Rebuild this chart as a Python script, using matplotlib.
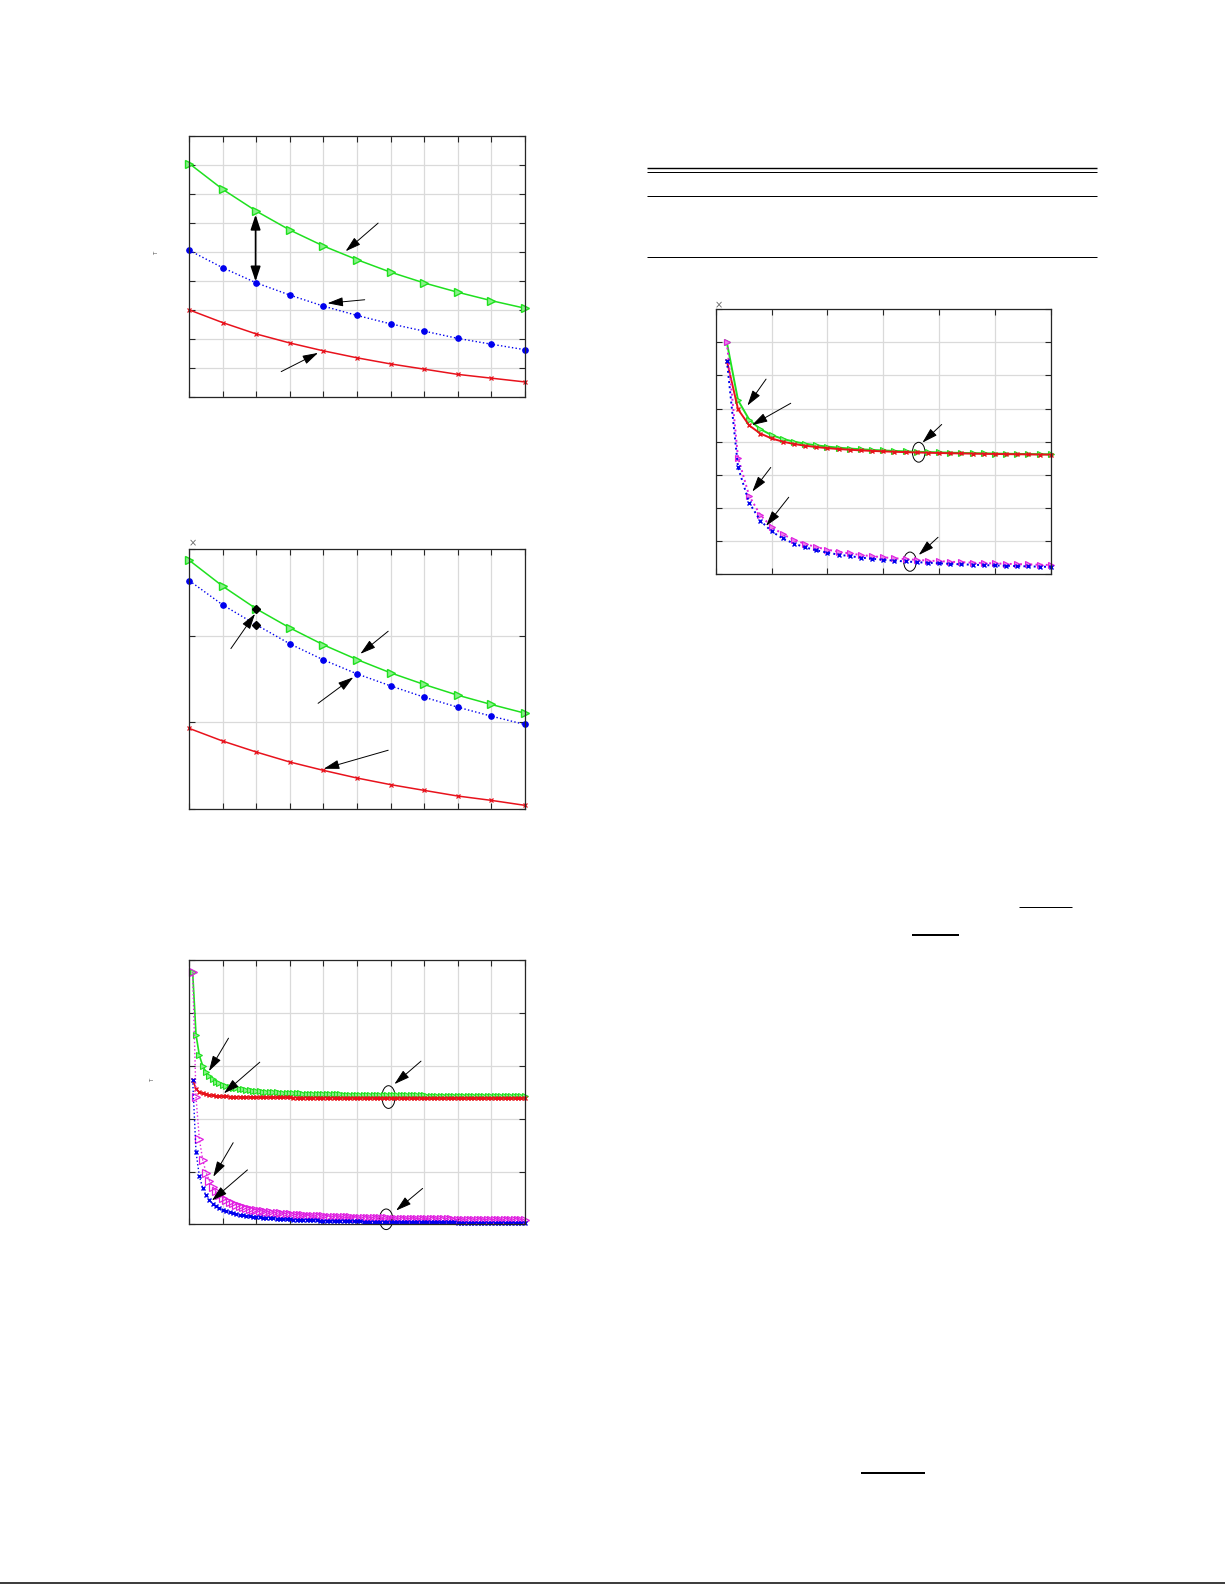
import matplotlib
matplotlib.use("Agg")
import matplotlib.pyplot as plt
from matplotlib.lines import Line2D
from matplotlib.patches import Ellipse

# ---------------- data ----------------
# Panel 1 (top-left)
p1_x = [0, 1, 2, 3, 4, 5, 6, 7, 8, 9, 10]
p1_green = [8.05, 7.16, 6.41, 5.76, 5.21, 4.74, 4.31, 3.94, 3.62, 3.33, 3.07]
p1_blue = [5.06, 4.46, 3.94, 3.52, 3.14, 2.82, 2.53, 2.28, 2.03, 1.83, 1.64]
p1_red = [3.01, 2.57, 2.18, 1.87, 1.60, 1.36, 1.15, 0.97, 0.79, 0.66, 0.53]

# Panel 2 (middle-left)
p2_x = [0, 1, 2, 3, 4, 5, 6, 7, 8, 9, 10]
p2_green = [2.866, 2.567, 2.307, 2.088, 1.893, 1.724, 1.571, 1.437, 1.314, 1.207, 1.107]
p2_blue = [2.632, 2.352, 2.123, 1.904, 1.720, 1.559, 1.421, 1.291, 1.176, 1.073, 0.977]
p2_red = [0.931, 0.785, 0.659, 0.544, 0.448, 0.360, 0.284, 0.218, 0.153, 0.103, 0.046]
p2_mark_x = [2, 2]
p2_mark_y = [2.31, 2.126]

# Panel 3 (bottom-left), 100 iterations
p3_x = list(range(1, 101))
p3_green = [4.780, 3.593, 3.197, 2.999, 2.881, 2.802, 2.745, 2.703, 2.670, 2.643,
            2.622, 2.604, 2.589, 2.576, 2.564, 2.554, 2.546, 2.538, 2.531, 2.525,
            2.519, 2.514, 2.509, 2.505, 2.501, 2.497, 2.494, 2.491, 2.488, 2.485,
            2.483, 2.480, 2.478, 2.476, 2.474, 2.472, 2.470, 2.469, 2.467, 2.465,
            2.464, 2.463, 2.461, 2.460, 2.459, 2.458, 2.457, 2.455, 2.454, 2.453,
            2.453, 2.452, 2.451, 2.450, 2.449, 2.448, 2.448, 2.447, 2.446, 2.446,
            2.445, 2.444, 2.444, 2.443, 2.443, 2.442, 2.441, 2.441, 2.440, 2.440,
            2.439, 2.439, 2.439, 2.438, 2.438, 2.437, 2.437, 2.436, 2.436, 2.436,
            2.435, 2.435, 2.435, 2.434, 2.434, 2.434, 2.433, 2.433, 2.433, 2.432,
            2.432, 2.432, 2.432, 2.431, 2.431, 2.431, 2.430, 2.430, 2.430, 2.430]
p3_red = [2.740, 2.565, 2.507, 2.478, 2.460, 2.448, 2.440, 2.434, 2.429, 2.425,
          2.422, 2.419, 2.417, 2.415, 2.413, 2.412, 2.411, 2.409, 2.408, 2.407,
          2.407, 2.406, 2.405, 2.405, 2.404, 2.403, 2.403, 2.402, 2.402, 2.402,
          2.401, 2.401, 2.401, 2.400, 2.400, 2.400, 2.399, 2.399, 2.399, 2.399,
          2.398, 2.398, 2.398, 2.398, 2.398, 2.398, 2.397, 2.397, 2.397, 2.397,
          2.397, 2.397, 2.397, 2.397, 2.396, 2.396, 2.396, 2.396, 2.396, 2.396,
          2.396, 2.396, 2.396, 2.396, 2.396, 2.396, 2.396, 2.396, 2.396, 2.396,
          2.395, 2.395, 2.395, 2.395, 2.395, 2.395, 2.395, 2.395, 2.395, 2.395,
          2.395, 2.395, 2.395, 2.395, 2.395, 2.394, 2.394, 2.394, 2.394, 2.394,
          2.394, 2.394, 2.394, 2.394, 2.394, 2.394, 2.394, 2.394, 2.394, 2.394]
p3_magenta = [4.780, 2.405, 1.613, 1.218, 0.980, 0.822, 0.709, 0.624, 0.558, 0.505,
              0.462, 0.426, 0.395, 0.369, 0.347, 0.327, 0.309, 0.294, 0.280, 0.268,
              0.256, 0.246, 0.237, 0.228, 0.220, 0.213, 0.206, 0.200, 0.194, 0.188,
              0.183, 0.178, 0.174, 0.170, 0.166, 0.162, 0.158, 0.155, 0.152, 0.149,
              0.146, 0.143, 0.140, 0.138, 0.136, 0.133, 0.131, 0.129, 0.127, 0.125,
              0.123, 0.121, 0.120, 0.118, 0.116, 0.115, 0.113, 0.112, 0.111, 0.109,
              0.108, 0.107, 0.105, 0.104, 0.103, 0.102, 0.101, 0.100, 0.099, 0.098,
              0.097, 0.096, 0.095, 0.094, 0.093, 0.093, 0.092, 0.091, 0.090, 0.089,
              0.089, 0.088, 0.087, 0.087, 0.086, 0.085, 0.085, 0.084, 0.083, 0.083,
              0.082, 0.082, 0.081, 0.081, 0.080, 0.079, 0.079, 0.078, 0.078, 0.077]
p3_blue = [2.740, 1.370, 0.913, 0.685, 0.548, 0.457, 0.391, 0.343, 0.304, 0.274,
           0.249, 0.228, 0.211, 0.196, 0.183, 0.171, 0.161, 0.152, 0.144, 0.137,
           0.130, 0.125, 0.119, 0.114, 0.110, 0.105, 0.101, 0.098, 0.094, 0.091,
           0.088, 0.086, 0.083, 0.081, 0.078, 0.076, 0.074, 0.072, 0.070, 0.069,
           0.067, 0.065, 0.064, 0.062, 0.061, 0.060, 0.058, 0.057, 0.056, 0.055,
           0.054, 0.053, 0.052, 0.051, 0.050, 0.049, 0.048, 0.047, 0.046, 0.046,
           0.045, 0.044, 0.043, 0.043, 0.042, 0.042, 0.041, 0.040, 0.040, 0.039,
           0.039, 0.038, 0.038, 0.037, 0.037, 0.036, 0.036, 0.035, 0.035, 0.034,
           0.034, 0.033, 0.033, 0.033, 0.032, 0.032, 0.031, 0.031, 0.031, 0.030,
           0.030, 0.030, 0.029, 0.029, 0.029, 0.029, 0.028, 0.028, 0.028, 0.027]

# Panel 4 (right), 30 iterations
p4_x = list(range(1, 31))
p4_green = [7.000, 5.250, 4.667, 4.375, 4.200, 4.083, 4.000, 3.938, 3.889, 3.850,
            3.818, 3.792, 3.769, 3.750, 3.733, 3.719, 3.706, 3.694, 3.684, 3.675,
            3.667, 3.659, 3.652, 3.646, 3.640, 3.635, 3.630, 3.625, 3.621, 3.617]
p4_red = [6.450, 4.980, 4.490, 4.245, 4.098, 4.000, 3.930, 3.878, 3.837, 3.804,
          3.777, 3.755, 3.736, 3.720, 3.706, 3.694, 3.683, 3.673, 3.665, 3.657,
          3.650, 3.644, 3.638, 3.633, 3.628, 3.623, 3.619, 3.615, 3.611, 3.608]
p4_magenta = [7.000, 3.520, 2.360, 1.780, 1.432, 1.200, 1.034, 0.910, 0.813, 0.736,
              0.673, 0.620, 0.575, 0.537, 0.504, 0.475, 0.449, 0.427, 0.406, 0.388,
              0.371, 0.356, 0.343, 0.330, 0.318, 0.308, 0.298, 0.289, 0.280, 0.272]
p4_blue = [6.450, 3.225, 2.150, 1.613, 1.290, 1.075, 0.921, 0.806, 0.717, 0.645,
           0.586, 0.538, 0.496, 0.461, 0.430, 0.403, 0.379, 0.358, 0.339, 0.323,
           0.307, 0.293, 0.280, 0.269, 0.258, 0.248, 0.239, 0.230, 0.222, 0.215]

# ---------------- style ----------------
W, H = 1225, 1585
GREEN = "#1fe01f"
GREEN_FILL = "#8af08a"
RED = "#e8121c"
BLUE = "#0000ee"
MAGENTA = "#e020e0"
GRID = "#dadada"

fig = plt.figure(figsize=(W / 100, H / 100), dpi=100)
fig.patch.set_facecolor("white")


def add_axes_px(x0, y0, x1, y1):
    return fig.add_axes([x0 / W, 1 - y1 / H, (x1 - x0) / W, (y1 - y0) / H])


def style_axes(ax, xlim, ylim, xstep, ystep):
    ax.set_xlim(*xlim)
    ax.set_ylim(*ylim)
    xt = []
    v = xlim[0]
    while v <= xlim[1] + 1e-9:
        xt.append(v)
        v += xstep
    yt = []
    v = ylim[0]
    while v <= ylim[1] + 1e-9:
        yt.append(v)
        v += ystep
    ax.set_xticks(xt)
    ax.set_yticks(yt)
    ax.set_xticklabels([])
    ax.set_yticklabels([])
    ax.tick_params(direction="in", length=4, width=0.8, colors="#262626",
                   top=True, right=True)
    ax.grid(True, color=GRID, lw=0.9, ls="-")
    ax.set_axisbelow(True)
    for s in ax.spines.values():
        s.set_color("#262626")
        s.set_linewidth(0.9)


def arrow(ax, x0, y0, x1, y1, lw=0.7):
    ax.annotate("", xy=(x1, y1), xytext=(x0, y0),
                arrowprops=dict(arrowstyle="-|>,head_length=0.95,head_width=0.28",
                                lw=lw, color="k", shrinkA=0, shrinkB=0),
                annotation_clip=False)


# ---------------- panel 1 ----------------
ax1 = add_axes_px(189.3, 136.0, 524.7, 397.3)
style_axes(ax1, (0, 10), (0, 9), 1, 1)
ax1.plot(p1_x, p1_green, color=GREEN, lw=1.1, marker=">", ms=5.5,
         mfc=GREEN_FILL, mec=GREEN, clip_on=False)
ax1.plot(p1_x, p1_blue, color=BLUE, lw=1.0, ls=":", marker="o", ms=3.8,
         mfc=BLUE, mec=BLUE, clip_on=False)
ax1.plot(p1_x, p1_red, color=RED, lw=1.1, marker="x", ms=3.5, mew=0.9,
         clip_on=False)
ax1.annotate("", xy=(1.976, 6.29), xytext=(1.976, 3.99),
             arrowprops=dict(arrowstyle="<|-|>,head_length=0.9,head_width=0.3",
                             lw=1.2, color="k", shrinkA=0, shrinkB=0))
arrow(ax1, 5.63, 6.00, 4.66, 5.03)
arrow(ax1, 5.23, 3.36, 4.12, 3.24)
arrow(ax1, 2.74, 0.885, 3.84, 1.53)
fig.text(157 / W, 1 - 253 / H, "T", fontsize=4, color="#555555",
         rotation=90, ha="center", va="center")

# ---------------- panel 2 ----------------
ax2 = add_axes_px(189.3, 548.7, 524.7, 809.3)
style_axes(ax2, (0, 10), (0, 3), 1, 1)
ax2.plot(p2_x, p2_green, color=GREEN, lw=1.1, marker=">", ms=5.5,
         mfc=GREEN_FILL, mec=GREEN, clip_on=False)
ax2.plot(p2_x, p2_blue, color=BLUE, lw=1.0, ls=":", marker="o", ms=3.8,
         mfc=BLUE, mec=BLUE, clip_on=False)
ax2.plot(p2_x, p2_red, color=RED, lw=1.1, marker="x", ms=3.5, mew=0.9,
         clip_on=False)
ax2.plot(p2_mark_x, p2_mark_y, ls="none", marker="D", ms=4.5, color="k")
arrow(ax2, 1.24, 1.85, 1.96, 2.25)
arrow(ax2, 5.93, 2.05, 5.10, 1.79)
arrow(ax2, 3.84, 1.22, 4.89, 1.52)
arrow(ax2, 5.93, 0.68, 4.01, 0.467)
fig.text(193 / W, 1 - 543 / H, "×", fontsize=7, color="#666666",
         ha="center", va="center")

# ---------------- panel 3 ----------------
ax3 = add_axes_px(189.3, 960.3, 524.7, 1224.3)
style_axes(ax3, (0, 100), (0, 5), 10, 1)
ax3.plot(p3_x, p3_green, color=GREEN, lw=1.2, marker=">", ms=5,
         mfc=GREEN_FILL, mec=GREEN, mew=0.8, clip_on=False)
ax3.plot(p3_x, p3_red, color=RED, lw=1.2, marker="x", ms=3.5, mew=1.0,
         clip_on=False)
ax3.plot(p3_x, p3_magenta, color=MAGENTA, lw=1.0, ls=":", marker=">", ms=5.5,
         mfc="none", mec=MAGENTA, mew=0.9, clip_on=False)
ax3.plot(p3_x, p3_blue, color=BLUE, lw=1.0, ls=":", marker="x", ms=3.5,
         mew=1.0, clip_on=False)
ax3.add_patch(Ellipse((59.4, 2.41), 3.96, 0.43, fill=False, ec="k", lw=0.7,
                      clip_on=False))
ax3.add_patch(Ellipse((58.7, 0.095), 3.96, 0.39, fill=False, ec="k", lw=0.7,
                      clip_on=False))
arrow(ax3, 11.69, 3.525, 5.85, 2.90)
arrow(ax3, 21.01, 3.07, 10.31, 2.48)
arrow(ax3, 69.08, 3.09, 61.15, 2.655)
arrow(ax3, 13.08, 1.545, 7.14, 0.90)
arrow(ax3, 17.34, 1.03, 6.74, 0.45)
arrow(ax3, 69.57, 0.68, 61.65, 0.26)
fig.text(153 / W, 1 - 1080 / H, "T", fontsize=4, color="#555555",
         rotation=90, ha="center", va="center")

# ---------------- panel 4 ----------------
ax4 = add_axes_px(715.7, 309.3, 1050.7, 574.0)
style_axes(ax4, (0, 30), (0, 8), 5, 1)
ax4.plot(p4_x, p4_green, color=GREEN, lw=1.4, marker=">", ms=5,
         mfc=GREEN_FILL, mec=GREEN, mew=0.8, clip_on=False)
ax4.plot(p4_x, p4_red, color=RED, lw=1.4, marker="x", ms=3.5, mew=1.0,
         clip_on=False)
ax4.plot(p4_x, p4_magenta, color=MAGENTA, lw=1.4, ls=":", marker=">", ms=5,
         mfc="#e880e8", mec=MAGENTA, mew=0.8, clip_on=False)
ax4.plot(p4_x, p4_blue, color=BLUE, lw=1.4, ls=":", marker="x", ms=3.5,
         mew=1.0, clip_on=False)
ax4.add_patch(Ellipse((18.18, 3.68), 1.13, 0.60, fill=False, ec="k", lw=0.7,
                      clip_on=False))
ax4.add_patch(Ellipse((17.40, 0.373), 1.13, 0.58, fill=False, ec="k", lw=0.7,
                      clip_on=False))
arrow(ax4, 4.51, 5.89, 2.84, 5.09)
arrow(ax4, 6.72, 5.16, 3.25, 4.50)
arrow(ax4, 20.24, 4.52, 18.51, 3.97)
arrow(ax4, 4.93, 3.22, 3.28, 2.49)
arrow(ax4, 6.54, 2.32, 4.51, 1.45)
arrow(ax4, 19.91, 1.11, 18.18, 0.574)
fig.text(719 / W, 1 - 305 / H, "×", fontsize=7, color="#666666",
         ha="center", va="center")


# ---------------- page rules ----------------
def hrule(x0, x1, y, lw_px):
    fig.add_artist(Line2D([x0 / W, x1 / W], [1 - y / H, 1 - y / H],
                          transform=fig.transFigure, color="k",
                          lw=lw_px * 0.72, solid_capstyle="butt"))


hrule(646.7, 1096.7, 168.3, 1.4)
hrule(646.7, 1096.7, 172.3, 1.0)
hrule(646.7, 1096.7, 196.3, 1.0)
hrule(646.7, 1096.7, 257.3, 1.0)
hrule(1019.0, 1071.7, 906.7, 1.0)
hrule(911.7, 959.0, 934.7, 2.0)
hrule(861.0, 925.0, 1473.0, 2.0)
hrule(0.0, 1225.0, 1582.5, 1.5)

fig.savefig("out.png", dpi=100, facecolor="white")
